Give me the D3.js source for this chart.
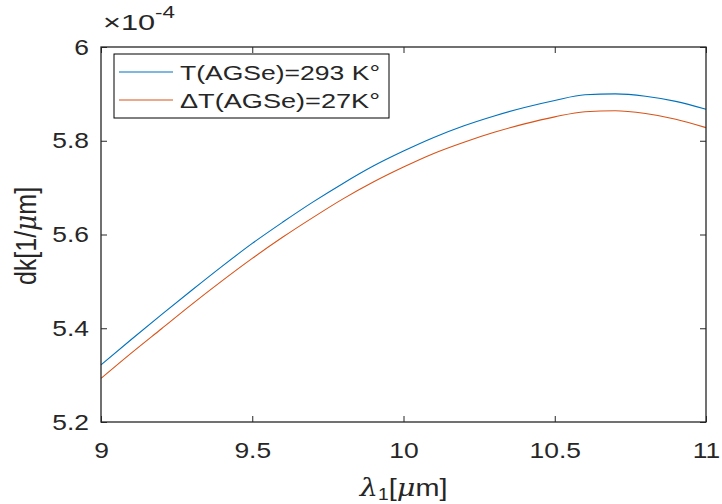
<!DOCTYPE html>
<html>
<head>
<meta charset="utf-8">
<script src="https://cdn.jsdelivr.net/npm/d3@7"></script>
<style>
  body { margin: 0; background: #fff; }
  svg { font-family: "Liberation Sans", Arial, sans-serif; }
  .wide { transform-box: fill-box; transform-origin: center; transform: scaleX(1.2); }
  .wideR { transform-box: fill-box; transform-origin: 100% 50%; transform: scaleX(1.2); }
</style>
</head>
<body>
<div id="chart"></div>
<script>
// data (dk values in units of 1e-4)
const lambda = [9.0, 9.1, 9.2, 9.3, 9.4, 9.5, 9.6, 9.7, 9.8, 9.9, 10.0,
                10.1, 10.2, 10.3, 10.4, 10.5, 10.6, 10.7, 10.8, 10.9, 11.0];
const dkT293 = [5.322, 5.376, 5.429, 5.481, 5.532, 5.581, 5.626, 5.669, 5.709, 5.746, 5.778,
                5.807, 5.832, 5.853, 5.871, 5.886, 5.898, 5.900, 5.895, 5.884, 5.867];
const dkDT27 = [5.293, 5.347, 5.399, 5.451, 5.501, 5.549, 5.594, 5.636, 5.676, 5.712, 5.744,
                5.773, 5.797, 5.818, 5.836, 5.851, 5.862, 5.864, 5.858, 5.846, 5.828];
const xTicks = [9, 9.5, 10, 10.5, 11];
const yTicks = [5.2, 5.4, 5.6, 5.8, 6];
const seriesNames = ["T(AGSe)=293 K\u00b0", "\u0394T(AGSe)=27K\u00b0"];
const seriesColors = ["#0072BD", "#D95319"];

const width = 722, height = 504;
const margin = {top: 47, right: 16, bottom: 82, left: 101};
const w = width - margin.left - margin.right;
const h = height - margin.top - margin.bottom;
const axisColor = "#262626";

const svg = d3.select("#chart").append("svg")
    .attr("width", width)
    .attr("height", height);

const g = svg.append("g")
    .attr("transform", `translate(${margin.left},${margin.top})`);

let x = d3.scaleLinear().domain([9, 11]).range([0, w]);
let y = d3.scaleLinear().domain([5.2, 6]).range([h, 0]);

// lines
const series = [dkT293, dkDT27];
const line = d3.line()
    .x(function(d, i) { return x(lambda[i]); })
    .y(function(d) { return y(d); })
    .curve(d3.curveMonotoneX);

series.forEach(function(s, k) {
    g.append("path")
        .datum(s)
        .attr("fill", "none")
        .attr("stroke", seriesColors[k])
        .attr("stroke-width", 1.1)
        .attr("d", line);
});

// axes, inner ticks on all four sides
function styleAxis(sel) {
    sel.select(".domain").remove();
    sel.selectAll(".tick line").attr("stroke", axisColor).attr("stroke-width", 1);
}

g.append("g")
    .attr("transform", `translate(0,${h})`)
    .call(d3.axisBottom(x).tickValues(xTicks).tickSize(-6).tickPadding(20)
        .tickFormat(d3.format("")))
    .call(styleAxis)
    .call(function(s) {
        s.selectAll("text").attr("class", "wide")
            .style("font-size", "22px").attr("fill", axisColor).attr("font-family", null);
    });

g.append("g")
    .call(d3.axisTop(x).tickValues(xTicks).tickSize(-6).tickFormat(""))
    .call(styleAxis);

g.append("g")
    .call(d3.axisLeft(y).tickValues(yTicks).tickSize(-6).tickPadding(12)
        .tickFormat(d3.format("")))
    .call(styleAxis)
    .call(function(s) {
        s.selectAll("text").attr("class", "wideR")
            .style("font-size", "22px").attr("fill", axisColor).attr("font-family", null);
    });

g.append("g")
    .attr("transform", `translate(${w},0)`)
    .call(d3.axisRight(y).tickValues(yTicks).tickSize(-6).tickFormat(""))
    .call(styleAxis);

// box
g.append("rect")
    .attr("width", w).attr("height", h)
    .attr("fill", "none")
    .attr("stroke", axisColor)
    .attr("stroke-width", 1.3);

// exponent label
const expo = svg.append("text")
    .attr("x", 103)
    .attr("y", 30)
    .attr("fill", axisColor)
    .style("font-size", "22px")
    .attr("textLength", 72)
    .attr("lengthAdjust", "spacingAndGlyphs");
expo.append("tspan").text("\u00d710");
expo.append("tspan").attr("dy", -12).style("font-size", "16px").text("-4");

// x label
const xl = svg.append("text")
    .attr("x", margin.left + w / 2)
    .attr("y", 496)
    .attr("text-anchor", "middle")
    .attr("fill", axisColor)
    .style("font-size", "24px")
    .attr("class", "wide");
xl.append("tspan").style("font-family", "'DejaVu Serif', serif").style("font-style", "italic").text("\u03bb");
xl.append("tspan").attr("dy", 4).style("font-size", "16px").text("1");
xl.append("tspan").attr("dy", -4).text("[");
xl.append("tspan").style("font-family", "'DejaVu Serif', serif").style("font-style", "italic").text("\u03bc");
xl.append("tspan").text("m]");

// y label
const yl = svg.append("g")
    .attr("transform", "translate(36,236) rotate(-90) scale(1,1.2)")
    .append("text")
    .attr("text-anchor", "middle")
    .attr("fill", axisColor)
    .style("font-size", "25px");
yl.append("tspan").text("dk[1/");
yl.append("tspan").style("font-family", "'DejaVu Serif', serif").style("font-style", "italic").text("\u03bc");
yl.append("tspan").text("m]");

// legend
const legend = svg.append("g").attr("transform", "translate(114,54)");
legend.append("rect")
    .attr("width", 275).attr("height", 64)
    .attr("fill", "#fff")
    .attr("stroke", "#000")
    .attr("stroke-width", 1);

seriesNames.forEach(function(name, k) {
    const ly = 18 + k * 28;
    legend.append("line")
        .attr("x1", 5).attr("x2", 59)
        .attr("y1", ly).attr("y2", ly)
        .attr("stroke", seriesColors[k])
        .attr("stroke-width", 1.1);
    legend.append("text")
        .attr("x", 66)
        .attr("y", ly + 8)
        .attr("fill", axisColor)
        .style("font-size", "21px")
        .attr("textLength", 200)
        .attr("lengthAdjust", "spacingAndGlyphs")
        .text(name);
});
</script>
</body>
</html>
